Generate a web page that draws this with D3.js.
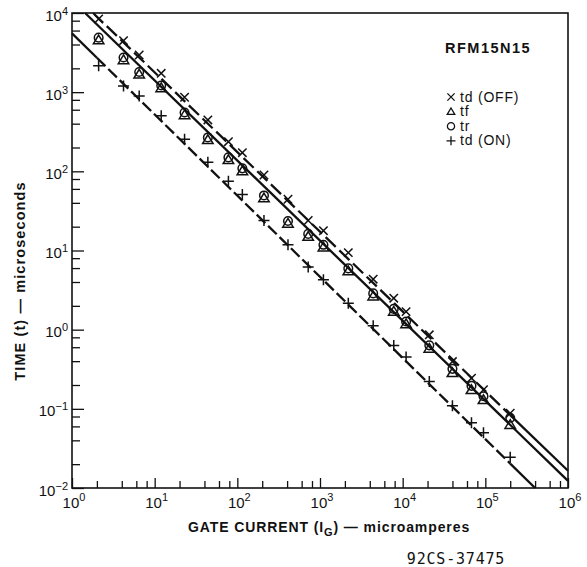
<!DOCTYPE html>
<html>
<head>
<meta charset="utf-8">
<script src="https://cdn.jsdelivr.net/npm/d3@7/dist/d3.min.js"></script>
<style>
  body { margin: 0; background: #fff; }
  text { font-family: "Liberation Sans", Arial, sans-serif; fill: #111; }
</style>
</head>
<body>
<div id="chart"></div>
<script>
// gate current (microamperes), shared by all four series
const gateCurrent = [2.1, 4.2, 6.5, 12, 23, 44, 78, 115, 210, 410, 720, 1100, 2200, 4400, 7800, 11000, 21000, 40000, 68000, 95000, 200000];

// times in microseconds
const tdOff = [8400, 4470, 2950, 1730, 863, 446, 237, 172, 90, 44.4, 23.9, 17.8, 9.4, 4.34, 2.5, 1.69, 0.86, 0.395, 0.244, 0.174, 0.088];
const tf = [4550, 2550, 1680, 1130, 515, 250, 140, 101, 46, 22, 15, 11, 5.5, 2.65, 1.7, 1.18, 0.58, 0.285, 0.174, 0.13, 0.063];
const tr = [4880, 2740, 1800, 1215, 554, 268, 150, 109, 49.6, 23.6, 16.2, 11.8, 5.94, 2.87, 1.83, 1.27, 0.634, 0.32, 0.195, 0.144, 0.077];
const tdOn = [2160, 1197, 895, 505, 254, 130, 75, 51, 23.9, 11.8, 6.2, 4.26, 2.16, 1.12, 0.63, 0.45, 0.221, 0.109, 0.0665, 0.05, 0.0245];

// straight fit lines, end points [gate current, time]
const tdOffFit = [[1.8, 1e4], [1e6, 0.0165]];
const tfTrFit = [[1.44, 1e4], [1e6, 0.0123]];
const tdOnFit = [[1, 5540], [4e5, 0.01]];
// span in which the dashed lines are broken
const dashRange = [2, 2e5];

const xTicks = [1, 10, 100, 1e3, 1e4, 1e5, 1e6];
const xTickLabels = ['0', '1', '2', '3', '4', '5', '6'];
const yTicks = [1e4, 1e3, 100, 10, 1, 0.1, 0.01];
const yTickLabels = ['4', '3', '2', '1', '0', '\u22121', '\u22122'];
const minorSteps = [2, 4, 6, 8];

const legendLabels = ['td (OFF)', 'tf', 'tr', 'td (ON)'];

const margin = { top: 13, right: 19, bottom: 79, left: 72 };
const width = 587 - margin.left - margin.right;
const height = 567 - margin.top - margin.bottom;

const svg = d3.select('#chart')
  .append('svg')
  .attr('width', 587)
  .attr('height', 567);

const g = svg.append('g')
  .attr('transform', 'translate(' + margin.left + ',' + margin.top + ')');

const x = d3.scaleLog().domain([1, 1e6]).range([0, width]);
const y = d3.scaleLog().domain([0.01, 1e4]).range([height, 0]);

function minorTicks(domain) {
  const out = [];
  for (let e = Math.log10(domain[0]); e < Math.log10(domain[1]); e++) {
    minorSteps.forEach(function(s) { out.push(s * Math.pow(10, e)); });
  }
  return out;
}

// axes: ticks point into the plot
function addAxis(axis, cls, transform) {
  const a = g.append('g').attr('class', cls).call(axis);
  if (transform) a.attr('transform', transform);
  a.select('.domain').remove();
  a.selectAll('line').attr('stroke', '#111').attr('stroke-width', 1.3);
  a.selectAll('text').remove();
}
addAxis(d3.axisBottom(x).tickValues(xTicks).tickSizeInner(-10).tickSizeOuter(0), 'x major', 'translate(0,' + height + ')');
addAxis(d3.axisBottom(x).tickValues(minorTicks(x.domain())).tickSizeInner(-7).tickSizeOuter(0), 'x minor', 'translate(0,' + height + ')');
addAxis(d3.axisLeft(y).tickValues(yTicks).tickSizeInner(-12).tickSizeOuter(0), 'y major');
addAxis(d3.axisLeft(y).tickValues(minorTicks(y.domain())).tickSizeInner(-8).tickSizeOuter(0), 'y minor');

// frame
g.append('rect')
  .attr('width', width)
  .attr('height', height)
  .attr('fill', 'none')
  .attr('stroke', '#111')
  .attr('stroke-width', 1.6);

// tick labels with superscript exponents
xTicks.forEach(function(v, i) {
  const t = g.append('text')
    .attr('x', x(v) + 2)
    .attr('y', height + 20)
    .attr('text-anchor', 'middle');
  t.append('tspan').attr('font-size', '15px').text('10');
  t.append('tspan').attr('font-size', '11px').attr('dy', -7).text(xTickLabels[i]);
});
yTicks.forEach(function(v, i) {
  const t = g.append('text')
    .attr('x', -4)
    .attr('y', y(v) + 7.5)
    .attr('text-anchor', 'end');
  t.append('tspan').attr('font-size', '15px').text('10');
  t.append('tspan').attr('font-size', '11px').attr('dy', -6).text(yTickLabels[i]);
});

// axis titles
const xTitle = svg.append('text')
  .attr('x', 329)
  .attr('y', 532)
  .attr('text-anchor', 'middle')
  .attr('font-size', '14px')
  .attr('font-weight', 'bold')
  .attr('letter-spacing', 0.9);
xTitle.append('tspan').text('GATE CURRENT (I');
xTitle.append('tspan').attr('font-size', '11px').attr('dy', 4).text('G');
xTitle.append('tspan').attr('dy', -4).text(') \u2014  microamperes');

svg.append('text')
  .attr('transform', 'translate(25,281) rotate(-90)')
  .attr('text-anchor', 'middle')
  .attr('font-size', '14.5px')
  .attr('font-weight', 'bold')
  .attr('letter-spacing', 1.1)
  .text('TIME (t) \u2014  microseconds');

svg.append('text')
  .attr('x', 456)
  .attr('y', 564)
  .attr('text-anchor', 'middle')
  .attr('font-size', '15px')
  .attr('letter-spacing', 0.8)
  .style('font-family', '"DejaVu Sans Mono", monospace')
  .text('92CS-37475');

svg.append('text')
  .attr('x', 445)
  .attr('y', 53)
  .attr('font-size', '14.5px')
  .attr('font-weight', 'bold')
  .attr('letter-spacing', 1.5)
  .text('RFM15N15');

// fit lines
function fitValue(fit, gc) {
  const k = Math.log(fit[1][1] / fit[0][1]) / Math.log(fit[1][0] / fit[0][0]);
  return fit[0][1] * Math.pow(gc / fit[0][0], k);
}

const lineGen = d3.line()
  .x(function(d) { return x(d[0]); })
  .y(function(d) { return y(d[1]); });

function drawFit(fit, dash, solidStart) {
  const a = fit[0][0], b = fit[1][0];
  const pieces = [];
  if (!dash) {
    pieces.push([a, b, null]);
  } else {
    let s = a;
    if (solidStart && a < dashRange[0]) { pieces.push([a, dashRange[0], null]); s = dashRange[0]; }
    pieces.push([s, Math.min(b, dashRange[1]), dash]);
    if (b > dashRange[1]) pieces.push([dashRange[1], b, null]);
  }
  pieces.forEach(function(p) {
    g.append('path')
      .attr('d', lineGen([[p[0], fitValue(fit, p[0])], [p[1], fitValue(fit, p[1])]]))
      .attr('fill', 'none')
      .attr('stroke', '#111')
      .attr('stroke-width', 2.3)
      .attr('stroke-dasharray', p[2]);
  });
}
drawFit(tdOffFit, '14,5', false);
drawFit(tfTrFit, null, false);
drawFit(tdOnFit, '12,4', true);

// marker shapes
function cross(sel, r) {
  sel.append('path').attr('d', 'M' + (-r) + ',' + (-r) + 'L' + r + ',' + r + 'M' + (-r) + ',' + r + 'L' + r + ',' + (-r));
}
function plus(sel, r) {
  sel.append('path').attr('d', 'M' + (-r) + ',0H' + r + 'M0,' + (-r) + 'V' + r);
}
function triangle(sel, r) {
  sel.append('path').attr('d', 'M0,' + (-r) + 'L' + (r * 1.05) + ',' + (r * 0.75) + 'L' + (-r * 1.05) + ',' + (r * 0.75) + 'Z');
}
function circle(sel, r) {
  sel.append('circle').attr('r', r);
}

const series = [
  { values: tdOff, shape: cross, size: 4.2 },
  { values: tf, shape: triangle, size: 5 },
  { values: tr, shape: circle, size: 4.3 },
  { values: tdOn, shape: plus, size: 5.5 }
];

series.forEach(function(s) {
  g.append('g')
    .selectAll('g')
    .data(s.values)
    .enter()
    .append('g')
    .attr('transform', function(d, i) {
      return 'translate(' + x(gateCurrent[i]) + ',' + y(d) + ')';
    })
    .attr('fill', 'none')
    .attr('stroke', '#111')
    .attr('stroke-width', 1.5)
    .each(function() { s.shape(d3.select(this), s.size); });
});

// legend
const legend = svg.append('g').attr('transform', 'translate(451,0)');
legendLabels.forEach(function(label, i) {
  const yy = 101.5 + i * 14.6;
  const sym = legend.append('g')
    .attr('transform', 'translate(0,' + (yy - 4.5) + ')')
    .attr('fill', 'none')
    .attr('stroke', '#111')
    .attr('stroke-width', 1.3);
  series[i].shape(sym, i === 3 ? 4.5 : 3.6);
  legend.append('text')
    .attr('x', 9)
    .attr('y', yy)
    .attr('font-size', '14px')
    .attr('letter-spacing', 0.8)
    .text(label);
});
</script>
</body>
</html>
